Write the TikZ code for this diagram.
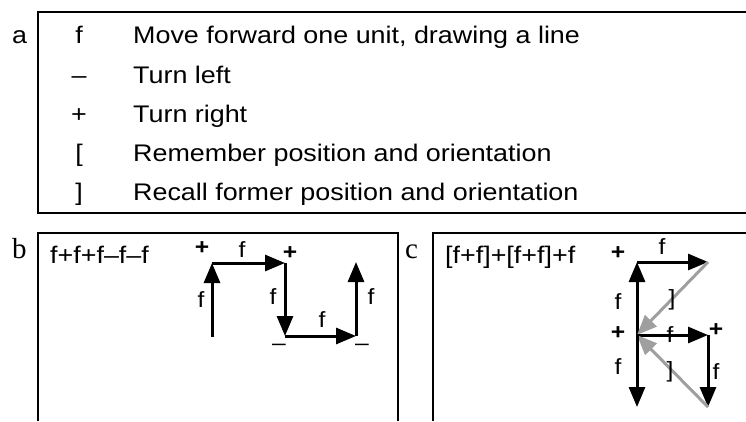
\documentclass[tikz,border=0pt]{standalone}
\usepackage{fontspec}
\usetikzlibrary{arrows.meta}

\newfontfamily\turtlefont{Liberation Sans}[FakeStretch=1.12]
\newfontfamily\panelfont{Liberation Serif}

\begin{document}
\begin{tikzpicture}[x=1pt,y=-1pt,
    frame/.style={line width=1.5pt},
    move/.style={line width=3pt,-{Triangle[length=20pt,width=16pt]}},
    recall/.style={move,gray!75},
    txt/.style={inner sep=0pt,font=\turtlefont\fontsize{24}{28}\selectfont},
    lbl/.style={inner sep=0pt,font=\turtlefont\fontsize{22}{26}\selectfont},
    turn/.style={lbl,font=\turtlefont\bfseries\fontsize{22}{26}\selectfont},
    tag/.style={inner sep=0pt,anchor=base west,font=\panelfont\fontsize{29}{34}\selectfont}]

    \useasboundingbox (0,0) rectangle (746,421);

    % Panel frames
    \draw[frame] (746,12) -- (38,12) -- (38,213) -- (746,213);
    \draw[frame] (38,421) -- (38,233) -- (398,233) -- (398,421);
    \draw[frame] (433,421) -- (433,233) -- (746,233);

    % Panel a: the table of symbols
    \node[txt,anchor=base west] (taga) at (12,43) {a};
    \foreach \sym/\desc/\y [count=\i] in {
        f/{Move forward one unit, drawing a line}/43,
        –/{Turn left}/83,
        +/{Turn right}/122,
        {[}/{Remember position and orientation}/161,
        {]}/{Recall former position and orientation}/200} {
        \node[txt,anchor=base] (sym\i) at (79,\y) {\sym};
        \node[txt,anchor=base west] (desc\i) at (133,\y) {\desc};
    }

    % Panel b
    \node[tag] (tagb) at (12,258) {b};
    \node[txt,anchor=base west] (wordb) at (50,263) {f+f+f–f–f};

    \coordinate (b0) at (212,337);
    \coordinate (b1) at (212,263);
    \coordinate (b2) at (285,263);
    \coordinate (b3) at (285,336);
    \coordinate (b4) at (356,336);
    \coordinate (b5) at (356,262);

    \draw[move] (b0) -- (b1);
    \draw[move] (b1) -- (b2);
    \draw[move] (b2) -- (b3);
    \draw[move] (b3) -- (b4);
    \draw[move] (b4) -- (b5);

    \node[turn] (bplus1) at (202,248) {+};
    \node[lbl] (bf2) at (242,250) {f};
    \node[turn] (bplus2) at (290,253) {+};
    \node[lbl] (bf1) at (201,300) {f};
    \node[lbl] (bf3) at (273,297) {f};
    \node[lbl] (bf4) at (322,320) {f};
    \node[lbl] (bminus1) at (279,347) {–};
    \node[lbl] (bminus2) at (362,347) {–};
    \node[lbl] (bf5) at (371,297) {f};

    % Panel c
    \node[tag] (tagc) at (405,258) {c};
    \node[txt,anchor=base west] (wordc) at (445,263) {[f+f]+[f+f]+f};

    \coordinate (pc) at (637,335);
    \coordinate (c1) at (637,262);
    \coordinate (c2) at (708,262);
    \coordinate (c3) at (708,335);
    \coordinate (c4) at (708,407);
    \coordinate (c5) at (637,407);

    \draw[move] (pc) -- (c1);
    \draw[move] (c1) -- (c2);
    \draw[recall] (c2) -- (pc);
    \draw[move] (pc) -- (c3);
    \draw[move] (c3) -- (c4);
    \draw[recall] (c4) -- (pc);
    \draw[move] (pc) -- (c5);

    \node[turn] (cplus1) at (618,253) {+};
    \node[lbl] (cf2) at (662,247) {f};
    \node[lbl] (cf1) at (618,302) {f};
    \node[lbl] (cbr1) at (672,300) {]};
    \node[turn] (cplus2) at (618,333) {+};
    \node[lbl] (cf3) at (670,335) {f};
    \node[turn] (cplus3) at (716,330) {+};
    \node[lbl] (cf5) at (618,367) {f};
    \node[lbl] (cbr2) at (670,372) {]};
    \node[lbl] (cf4) at (716,372) {f};

\end{tikzpicture}
\end{document}
